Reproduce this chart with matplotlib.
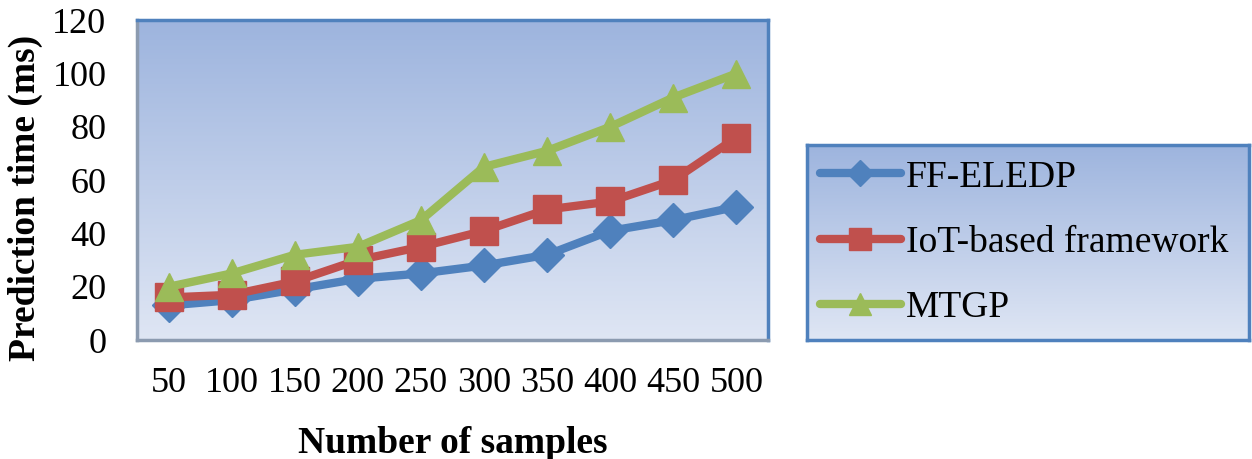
"""prediction time vs number of samples"""
import numpy as np
import matplotlib.pyplot as plt
from matplotlib.colors import LinearSegmentedColormap

samples = ['50', '100', '150', '200', '250', '300', '350', '400', '450', '500']
ff_eledp = [13, 15, 19, 23, 25, 28, 32, 41, 45, 50]
iot_based = [16, 17, 22, 30, 35, 41, 49, 52, 60, 76]
mtgp = [20, 25, 32, 35, 45, 65, 71, 80, 91, 100]
names = ['FF-ELEDP', 'IoT-based framework', 'MTGP']
colors = ['#4f81bd', '#c0504d', '#9bbb59']
markers = ['D', 's', '^']

plt.rcParams['font.family'] = ['Liberation Serif', 'DejaVu Serif']

fig = plt.figure(figsize=(12.52, 4.59), dpi=100)
grad = LinearSegmentedColormap.from_list('g', ['#dfe6f4', '#9db4de'])

def gradient_bg(ax):
    #vertical gradient, light at bottom
    g = np.linspace(0, 1, 256).reshape(-1, 1)
    ax.imshow(g, cmap=grad, aspect='auto', origin='lower',
              extent=[0, 1, 0, 1], transform=ax.transAxes, zorder=0)

ax = fig.add_axes([0.1094, 0.259, 0.504, 0.697])
gradient_bg(ax)
x = np.arange(len(samples))
for ys, c, m, n in zip([ff_eledp, iot_based, mtgp], colors, markers, names):
    ms = 17 if m == 'D' else 20
    ax.plot(x, ys, color=c, lw=6, marker=m, ms=ms, label=n, zorder=3,
            solid_capstyle='round')
ax.set_xlim(-0.5, len(samples) - 0.5)
ax.set_ylim(0, 120)
ax.set_xticks(x)
ax.set_xticklabels(samples)
ax.set_yticks(range(0, 121, 20))
ax.tick_params(length=0, labelsize=26)
ax.tick_params(axis='x', pad=19)
ax.tick_params(axis='y', pad=22)
for s in ['top', 'right']:
    ax.spines[s].set_color('#4f81bd')
    ax.spines[s].set_linewidth(2.5)
for s in ['left', 'bottom']:
    ax.spines[s].set_color('#8c9bb0')
    ax.spines[s].set_linewidth(2.5)
ax.set_xlabel('Number of samples', fontsize=27, fontweight='bold', labelpad=19)
ax.set_ylabel('Prediction time (ms)', fontsize=27, fontweight='bold', labelpad=7)
ax.yaxis.label.set_y(0.445)

#legend box
lax = fig.add_axes([0.6445, 0.259, 0.353, 0.425])
gradient_bg(lax)
lax.set_xticks([]); lax.set_yticks([])
for s in lax.spines.values():
    s.set_color('#4f81bd')
    s.set_linewidth(2.5)
h, l = ax.get_legend_handles_labels()
leg = lax.legend(h, l, loc='center left', frameon=False, fontsize=27,
                 handlelength=2.15, handletextpad=0.15, labelspacing=0.82,
                 borderaxespad=0.0, borderpad=0.35, markerscale=0.8)

fig.savefig('out.png', dpi=100)
